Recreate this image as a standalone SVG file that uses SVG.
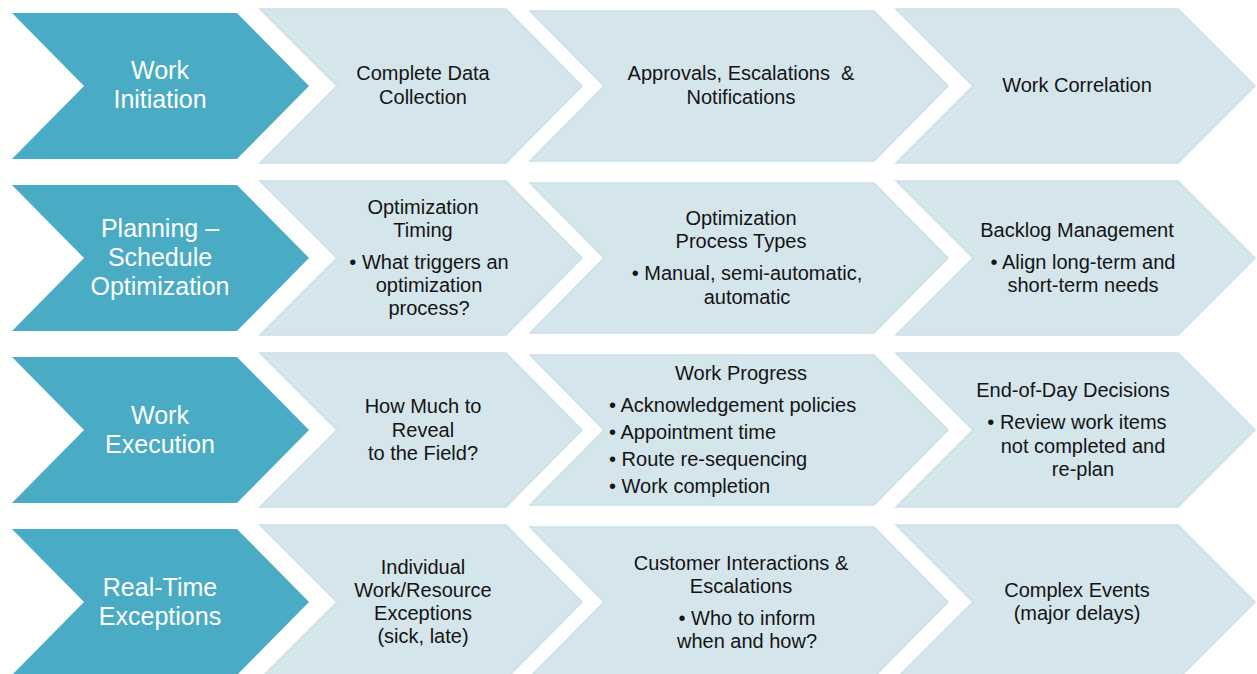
<svg xmlns="http://www.w3.org/2000/svg" width="1257" height="674" viewBox="0 0 1257 674">
<style>
.dark{fill:#4aabc5;}
.light{fill:#d4e5ec;stroke:#cadfe7;stroke-width:1.5;stroke-linejoin:miter;}
.dt{font-family:"Liberation Sans",Arial,sans-serif;font-size:25px;fill:#ffffff;text-anchor:middle;}
.lt{font-family:"Liberation Sans",Arial,sans-serif;font-size:20px;fill:#141414;text-anchor:middle;}
.ll{font-family:"Liberation Sans",Arial,sans-serif;font-size:20px;fill:#141414;text-anchor:start;}
</style>
<rect width="1257" height="674" fill="#ffffff"/>
<g id="connectors"/>

<!-- Row 1 -->
<g id="work-initiation">
<polygon class="dark" points="12,13 237,13 309,86 237,159 12,159 84,86"/>
<text class="dt" x="160" y="79">Work</text>
<text class="dt" x="160" y="108">Initiation</text>
</g>
<g id="complete-data-collection">
<polygon class="light" points="260,9 506,9 582,86 506,163 260,163 337,86"/>
<text class="lt" x="423" y="80">Complete Data</text>
<text class="lt" x="423" y="104">Collection</text>
</g>
<g id="approvals">
<polygon class="light" points="530,11 874,11 948,86 874,161 530,161 604,86"/>
<text class="lt" x="741" y="80" xml:space="preserve">Approvals, Escalations  &amp;</text>
<text class="lt" x="741" y="104">Notifications</text>
</g>
<g id="work-correlation">
<polygon class="light" points="896,9 1178,9 1255,86 1178,163 896,163 973,86"/>
<text class="lt" x="1077" y="92">Work Correlation</text>
</g>

<!-- Row 2 -->
<g id="planning">
<polygon class="dark" points="12,185 237,185 309,258 237,331 12,331 84,258"/>
<text class="dt" x="160" y="237">Planning –</text>
<text class="dt" x="160" y="266">Schedule</text>
<text class="dt" x="160" y="295">Optimization</text>
</g>
<g id="optimization-timing">
<polygon class="light" points="260,181 506,181 582,258 506,335 260,335 337,258"/>
<text class="lt" x="423" y="214">Optimization</text>
<text class="lt" x="423" y="237">Timing</text>
<text class="lt" x="429" y="269">• What triggers an</text>
<text class="lt" x="429" y="292">optimization</text>
<text class="lt" x="429" y="315">process?</text>
</g>
<g id="optimization-process-types">
<polygon class="light" points="530,183 874,183 948,258 874,333 530,333 604,258"/>
<text class="lt" x="741" y="225">Optimization</text>
<text class="lt" x="741" y="248">Process Types</text>
<text class="lt" x="747" y="280">• Manual, semi-automatic,</text>
<text class="lt" x="747" y="304">automatic</text>
</g>
<g id="backlog-management">
<polygon class="light" points="896,181 1178,181 1255,258 1178,335 896,335 973,258"/>
<text class="lt" x="1077" y="237">Backlog Management</text>
<text class="lt" x="1083" y="269">• Align long-term and</text>
<text class="lt" x="1083" y="292">short-term needs</text>
</g>

<!-- Row 3 -->
<g id="work-execution">
<polygon class="dark" points="12,357 237,357 309,430 237,503 12,503 84,430"/>
<text class="dt" x="160" y="424">Work</text>
<text class="dt" x="160" y="453">Execution</text>
</g>
<g id="how-much-to-reveal">
<polygon class="light" points="260,353 506,353 582,430 506,507 260,507 337,430"/>
<text class="lt" x="423" y="413">How Much to</text>
<text class="lt" x="423" y="437">Reveal</text>
<text class="lt" x="423" y="460">to the Field?</text>
</g>
<g id="work-progress">
<polygon class="light" points="530,355 874,355 948,430 874,505 530,505 604,430"/>
<text class="lt" x="741" y="380">Work Progress</text>
<text class="ll" x="609" y="412">• Acknowledgement policies</text>
<text class="ll" x="609" y="439">• Appointment time</text>
<text class="ll" x="609" y="466">• Route re-sequencing</text>
<text class="ll" x="609" y="493">• Work completion</text>
</g>
<g id="end-of-day-decisions">
<polygon class="light" points="896,353 1178,353 1255,430 1178,507 896,507 973,430"/>
<text class="lt" x="1073" y="397">End-of-Day Decisions</text>
<text class="lt" x="1077" y="429">• Review work items</text>
<text class="lt" x="1083" y="453">not completed and</text>
<text class="lt" x="1083" y="476">re-plan</text>
</g>

<!-- Row 4 -->
<g id="real-time-exceptions">
<polygon class="dark" points="12,529 237,529 309,602 237,675 12,675 84,602"/>
<text class="dt" x="160" y="596">Real-Time</text>
<text class="dt" x="160" y="625">Exceptions</text>
</g>
<g id="individual-exceptions">
<polygon class="light" points="260,525 506,525 582,602 506,679 260,679 337,602"/>
<text class="lt" x="423" y="574">Individual</text>
<text class="lt" x="423" y="597">Work/Resource</text>
<text class="lt" x="423" y="620">Exceptions</text>
<text class="lt" x="423" y="643">(sick, late)</text>
</g>
<g id="customer-interactions">
<polygon class="light" points="530,527 874,527 948,602 874,677 530,677 604,602"/>
<text class="lt" x="741" y="570">Customer Interactions &amp;</text>
<text class="lt" x="741" y="593">Escalations</text>
<text class="lt" x="747" y="625">• Who to inform</text>
<text class="lt" x="747" y="648">when and how?</text>
</g>
<g id="complex-events">
<polygon class="light" points="896,525 1178,525 1255,602 1178,679 896,679 973,602"/>
<text class="lt" x="1077" y="597">Complex Events</text>
<text class="lt" x="1077" y="620">(major delays)</text>
</g>
</svg>
